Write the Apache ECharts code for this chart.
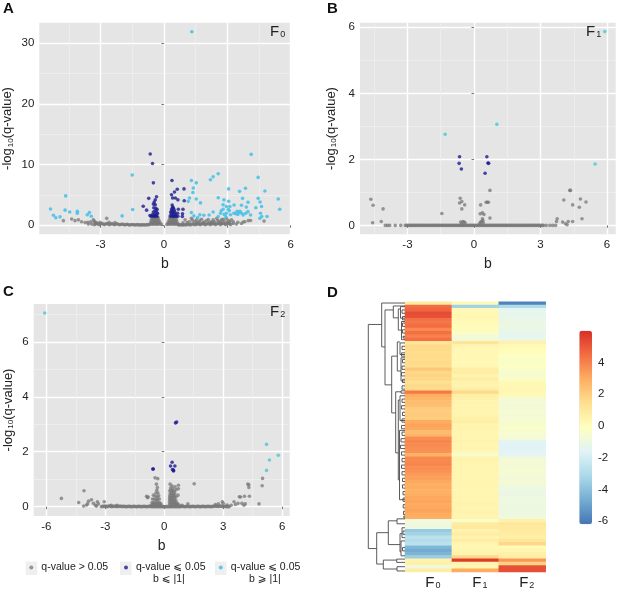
<!DOCTYPE html>
<html><head><meta charset="utf-8">
<style>html,body{margin:0;padding:0;background:#fff}#c{width:617px;height:590px}</style>
<script src="https://cdn.jsdelivr.net/npm/echarts@6/dist/echarts.min.js"></script>
</head><body><div id="c"></div>
<script>
// ---------- Panel A (F0) ----------
const grayA=[[-3.3,.1],[-3.18,.3],[-3.06,.1],[-2.94,.32],[-2.82,.12],[-2.7,.3],[-2.58,.1],[-2.46,.28],[-2.34,.1],[-2.22,.26],[-2.1,.1],[-1.98,.2],[-1.86,.08],[-1.74,.18],[-1.62,.06],[-1.5,.14],[-1.38,.06],[-1.26,.12],[-1.14,.05],[-1.02,.1],[-.9,.05],[-.78,.12],[1.0,.1],[.88,.08],[.76,.12],[1.12,.2],[1.24,.1],[1.36,.25],[1.48,.1],[1.6,.28],[1.72,.1],[1.84,.3],[1.96,.1],[2.08,.3],[2.2,.12],[2.32,.32],[2.44,.12],[2.56,.35],[2.68,.12],[2.8,.35],[2.92,.15],[3.04,.35],[3.16,.12],[3.28,.3],
[-3.24,.2],[-3.12,.2],[-3.0,.22],[-2.88,.2],[-2.76,.2],[-2.64,.2],[-2.52,.2],[-2.4,.18],[-2.28,.18],[-2.16,.16],[-2.04,.14],[-1.92,.14],[-1.8,.12],[-1.68,.1],[-1.56,.1],[-1.44,.09],[-1.32,.08],[-1.2,.08],[-1.08,.07],[-.96,.08],[-.84,.08],[-.72,.08],[.7,.06],[.82,.06],[.94,.08],[1.06,.08],[1.18,.1],[1.3,.12],[1.42,.14],[1.54,.16],[1.66,.18],[1.78,.2],[1.9,.2],[2.02,.2],[2.14,.2],[2.26,.22],[2.38,.22],[2.5,.22],[2.62,.24],[2.74,.24],[2.86,.24],[2.98,.24],[3.1,.24],
[-3.03,.5],[-3.2,.45],[-2.71,1.15],[-2.32,.45],[-2.6,.5],[-4.76,.77],[-4.37,1.05],[-4.21,.77],[-4.05,.9],[-3.9,.6],[-3.73,.45],[-3.58,.2],[-3.46,.6],[-3.34,.9],[-3.26,.45],[-3.42,.2],[-3.3,.7],[-3.6,.5],
[1.0,.9],[1.3,1.15],[1.54,.9],[1.78,1.0],[2.0,.75],[2.33,.9],[2.5,1.15],[2.72,.9],[2.96,1.15],[3.12,.6],[3.28,.6],[3.43,.2],[3.67,.3],[3.83,.6],[3.99,.77],[4.1,.8],[4.74,.7],[1.2,.6],[1.45,.6],[1.66,.5],[1.9,.55],[2.15,.5],[2.4,.6],[2.62,.6],[2.85,.65],[3.05,.8],[3.5,.5],[3.75,.55],[.9,.4],[1.1,.45],[1.35,.85],[1.7,.75],[2.1,.95],[2.25,.6],[2.55,.8],[2.8,1.0],[3.2,.9],[1.55,.45],[1.85,.4],[2.3,.45],[2.7,.5],[3.0,.55],
[-.66,.2],[-.6,.2],[-.54,.2],[-.48,.2],[-.42,.2],[-.36,.2],[-.3,.2],[-.24,.2],[-.18,.25],[-.12,.15],[-.62,.55],[-.55,.55],[-.48,.55],[-.41,.55],[-.34,.55],[-.27,.55],[-.2,.6],[-.6,.9],[-.53,.9],[-.46,.9],[-.39,.9],[-.32,.9],[-.25,.9],[-.55,1.25],[-.48,1.3],[-.41,1.3],[-.34,1.3],[-.27,1.25],
[.14,.15],[.2,.2],[.26,.2],[.32,.2],[.38,.2],[.44,.2],[.5,.2],[.56,.2],[.62,.2],[.68,.15],[.2,.55],[.27,.55],[.34,.55],[.41,.55],[.48,.55],[.55,.55],[.62,.55],[.25,.9],[.32,.9],[.39,.9],[.46,.9],[.53,.9],[.6,.9],[.28,1.25],[.35,1.3],[.42,1.3],[.49,1.3],[.56,1.25]];
const darkA=[[-.65,11.75],[-.54,10.2],[-.5,7.0],[.38,7.4],[.95,6.0],[.63,5.95],[.5,5.5],[.36,5.05],[.41,4.5],[.54,4.5],[-.35,4.7],[-.72,4.45],[-.41,4.2],[.66,4.2],[.96,4.05],[-.46,3.85],[-.5,3.5],[-.41,3.4],[-.98,3.15],[-.82,2.5],[.39,3.35],[.41,3.0],[.47,2.65],[.38,2.4],[.68,2.65],[.9,2.65],[.88,1.9],[.65,2.0],[.87,1.45],[-.48,2.9],[-.38,2.8],[-.32,2.6],[-.42,2.4],[-.5,2.2],[-.35,2.15],[-.3,1.95],[-.55,1.75],[-.45,1.8],[-.38,1.65],[-.6,1.5],[-.5,1.5],[-.42,1.5],[-.33,1.5],[-.66,1.6],[.32,2.2],[.42,2.1],[.5,2.3],[.35,1.9],[.45,1.75],[.55,1.7],[.3,1.55],[.38,1.5],[.48,1.45],[.58,1.5],[.66,1.5],[.52,2.0],[.44,2.9],[.36,2.7]];
const cyanA=[[1.32,31.9],[4.13,11.7],[-1.5,8.3],[2.57,8.5],[2.33,8.0],[2.2,7.5],[4.46,7.9],[1.3,7.4],[1.53,7.0],[1.39,6.15],[3.06,6.0],[3.86,6.1],[3.58,5.6],[4.78,5.65],[1.37,5.4],[-4.65,4.85],[3.72,4.45],[4.46,4.45],[5.41,4.35],[1.21,4.5],[1.53,4.35],[2.57,4.55],[1.15,3.95],[1.73,3.7],[2.84,4.2],[3.06,3.95],[3.98,3.8],[4.55,3.85],[-5.37,2.7],[5.48,2.65],[-1.48,2.6],[-4.68,2.5],[-4.46,2.2],[-4.1,2.3],[-4.1,2.0],[-3.53,2.1],[-3.63,1.75],[-3.44,1.5],[-5.23,1.65],[-5.12,1.25],[-4.92,1.4],[-1.98,1.55],[2.8,3.4],[2.96,3.1],[3.12,3.1],[3.32,3.35],[2.8,2.65],[3.09,2.4],[2.71,2.4],[3.67,3.3],[3.9,3.0],[4.35,2.9],[4.62,3.1],[3.46,2.3],[3.55,2.15],[3.31,2.0],[3.15,1.75],[2.96,2.0],[2.68,2.0],[2.57,1.45],[2.93,1.45],[3.68,2.0],[3.87,2.0],[4.1,1.7],[3.98,2.25],[3.75,1.7],[4.57,2.0],[4.63,1.45],[4.54,1.15],[4.88,1.45],[2.33,2.2],[2.14,1.7],[1.89,1.65],[1.7,1.75],[1.6,1.3],[1.3,2.1],[1.42,1.55],[3.4,1.9],[3.6,2.3],[3.5,1.8],[2.85,1.8],[3.05,2.6]];
// ---------- Panel B (F1) ----------
const grayB=[[-3.1,0],[-2.98,0],[-2.86,0],[-2.74,0],[-2.62,0],[-2.5,0],[-2.38,0],[-2.26,0],[-2.14,0],[-2.02,0],[-1.9,0],[-1.78,0],[-1.66,0],[-1.54,0],[-1.42,0],[-1.3,0],[-1.18,0],[-1.06,0],[-.94,0],[-.82,0],[-.7,0],[-.58,0],[-.46,0],[-.34,0],[-.22,0],[-.1,0],[.02,0],[.14,0],[.26,0],[.38,0],[.5,0],[.62,0],[.74,0],[.86,0],[.98,0],[1.1,0],[1.22,0],[1.34,0],[1.46,0],[1.58,0],[1.7,0],[1.82,0],[1.94,0],[2.06,0],[2.18,0],[2.3,0],[2.42,0],[2.54,0],[2.66,0],[2.78,0],[2.9,0],[3.02,0],[3.14,0],
[-3.04,0],[-2.92,0],[-2.8,0],[-2.68,0],[-2.56,0],[-2.44,0],[-2.32,0],[-2.2,0],[-2.08,0],[-1.96,0],[-1.84,0],[-1.72,0],[-1.6,0],[-1.48,0],[-1.36,0],[-1.24,0],[-1.12,0],[-1.0,0],[-.88,0],[-.76,0],[-.64,0],[-.52,0],[-.4,0],[-.28,0],[-.16,0],[-.04,0],[.08,0],[.2,0],[.32,0],[.44,0],[.56,0],[.68,0],[.8,0],[.92,0],[1.04,0],[1.16,0],[1.28,0],[1.4,0],[1.52,0],[1.64,0],[1.76,0],[1.88,0],[2.0,0],[2.12,0],[2.24,0],[2.36,0],[2.48,0],[2.6,0],[2.72,0],[2.84,0],[2.96,0],[3.08,0],
[3.26,0],[3.42,0],[3.55,0],[3.68,0],[-3.3,0],[-3.55,0],[-3.8,0],[-3.9,0],[-4.0,0],
[-4.65,.79],[-4.55,.61],[-4.57,.08],[-4.1,.5],[-4.18,.12],[-1.45,.36],[-.62,.82],[-.65,.68],[-.55,.72],[-.55,.5],[-.42,.62],[-.6,.1],[-.5,.12],[-.45,.1],[-.4,.08],[-.55,.05],[.3,.62],[.28,.35],[.38,.38],[.45,.33],[.72,1.06],[.55,.7],[.6,.7],[.65,.7],[.72,.22],[.38,.2],[.4,.15],[.35,.12],[.3,.1],[.42,.08],[.26,.06],
[3.75,.2],[3.72,.12],[4.0,.1],[4.05,.77],[4.25,.12],[4.13,.05],[4.2,.02],[4.32,1.06],[4.35,1.06],[4.45,.62],[4.45,.12],[4.75,.55],[4.8,.8],[4.87,.2],[5.05,.71]];
const darkB=[[-.65,2.08],[-.67,1.88],[-.57,1.71],[.58,2.08],[.63,1.89],[.66,1.88],[.5,1.58]];
const cyanB=[[-1.3,2.76],[1.03,3.06],[5.9,5.87],[5.46,1.86]];
// ---------- Panel C (F2) ----------
const grayC=[[-3.2,.0],[-3.07,.01],[-2.94,.0],[-2.81,.02],[-2.68,.0],[-2.55,.01],[-2.42,.0],[-2.29,.01],[-2.16,.0],[-2.03,.01],[-1.9,.0],[-1.77,.01],[-1.64,.0],[-1.51,.01],[-1.38,.0],[-1.25,.01],[-1.12,.0],[-.99,.01],[-.86,.0],[-.73,.01],[-.6,.0],[-.47,.0],[-.34,.0],[-.21,.0],[-.08,.0],[.05,.0],[.18,.0],[.31,.0],[.44,.0],[.57,.0],[.7,.0],[.83,.0],[.96,.01],[1.09,.0],[1.22,.01],[1.35,.0],[1.48,.01],[1.61,.0],[1.74,.01],[1.87,.0],[2.0,.01],[2.13,.0],[2.26,.01],[2.39,.0],[2.52,.01],[2.65,.02],[2.78,.01],[2.91,.02],[3.04,.01],[3.17,.0],[3.3,.0],
[-3.13,.01],[-3.0,.02],[-2.87,.01],[-2.74,.02],[-2.61,.01],[-2.48,.02],[-2.35,.01],[-2.22,.02],[-2.09,.01],[-1.96,.0],[-1.83,.01],[-1.7,.0],[-1.57,.01],[-1.44,.0],[-1.31,.01],[-1.18,.0],[-1.05,.01],[-.92,.0],[-.79,.01],[-.66,.0],[-.53,.0],[-.4,.0],[-.27,.0],[-.14,.0],[-.02,.0],[.11,.0],[.24,.0],[.37,.0],[.5,.0],[.63,.0],[.76,.0],[.89,.01],[1.02,.0],[1.15,.01],[1.28,.0],[1.41,.01],[1.54,.0],[1.67,.01],[1.8,.0],[1.93,.01],[2.06,.0],[2.19,.01],[2.32,.0],[2.45,.01],[2.58,.02],[2.71,.01],[2.84,.02],[2.97,.01],[3.1,.01],[3.24,.0],
[-5.23,.3],[-4.08,.58],[-4.35,.15],[-4.1,.02],[-3.9,.1],[-3.85,.2],[-3.95,.06],[-3.7,.25],[-3.6,.12],[-3.5,.05],[-3.4,.18],[-3.35,.1],[-3.45,.02],[-3.05,.18],[-2.7,.05],[-2.4,.05],
[-.9,.38],[-.82,.35],[-.85,.33],[-.47,1.05],[-.33,1.02],[-.4,.82],[-.35,.7],[-.38,.6],[-.42,.5],[-.32,.5],[-.55,.42],[-.45,.38],[-.35,.35],[-.28,.4],[-.6,.28],[-.5,.27],[-.42,.25],[-.34,.25],[-.25,.28],[-.62,.15],[-.55,.14],[-.47,.14],[-.4,.14],[-.32,.14],[-.24,.15],[-.17,.1],[-.66,.06],[-.58,.07],[-.5,.07],[-.42,.07],[-.34,.07],[-.26,.07],[-.18,.06],
[.3,.82],[.4,.75],[.55,.72],[.72,.78],[.32,.68],[.42,.65],[.72,.65],[.6,.62],[.28,.58],[.36,.58],[.44,.58],[.52,.55],[.3,.48],[.38,.48],[.46,.48],[.54,.46],[.7,.42],[.28,.4],[.36,.4],[.44,.4],[.52,.38],[.6,.35],[.27,.32],[.35,.32],[.43,.32],[.51,.3],[.27,.24],[.35,.24],[.43,.24],[.51,.22],[.59,.22],[.27,.16],[.35,.16],[.43,.16],[.51,.15],[.59,.14],[.67,.12],[.27,.08],[.35,.08],[.43,.08],[.51,.08],[.59,.07],[.67,.07],[.75,.06],[.9,.05],[1.2,.1],[1.52,.83],
[2.95,.18],[2.6,.08],[2.75,.1],[3.0,.12],[3.2,.06],[3.4,.05],[3.55,.18],[3.62,.08],[3.75,.12],[3.82,.36],[3.88,.35],[3.95,.12],[4.05,.05],[4.08,.38],[4.12,.1],[4.25,.82],[4.3,.8],[4.3,.7],[4.33,.38],[4.82,.1],[5.0,1.03],[4.98,.76]];
const darkC=[[.57,3.05],[.63,3.08],[.4,1.62],[.32,1.48],[.54,1.48],[.42,1.35],[.47,1.33],[.47,1.3],[-.58,1.37],[-.56,1.37]];
const cyanC=[[-6.08,7.05],[5.2,2.27],[5.8,1.87],[5.35,1.7],[5.2,1.32]];
// ---------- Panel D heat map ----------
const columns=['F{s|0}','F{s|1}','F{s|2}'];
const heatF0=[.9,4.5,4.7,5.3,5.2,4.4,4.3,4.5,3.8,4.4,4.0,4.4,1.2,1.6,1.6,1.5,1.6,1.5,1.6,1.5,2.2,1.7,1.8,1.7,1.4,1.6,1.6,4.2,3.0,2.7,2.5,2.4,2.1,2.0,2.1,2.0,3.0,3.2,3.1,2.5,2.7,3.7,3.9,3.8,3.7,3.6,2.8,3.8,3.8,3.9,3.7,3.6,3.4,3.3,3.1,2.9,3.0,2.8,2.9,3.1,3.2,3.0,3.1,3.2,3.0,2.9,-.9,-.8,-1.0,-3.7,-3.4,-2.7,-2.9,-2.7,-4.3,-4.7,-4.4,-3.6,.5,.6,-1.0,.8];
const heatF1=[.2,-3.4,.2,.3,.3,.3,.2,.1,.1,-.3,-.7,-.8,1.2,.4,.3,.3,.3,.3,.2,.3,.7,.8,.4,.8,.5,.5,.7,1.6,.7,.6,.5,.4,.5,.4,.4,.6,.7,.4,.5,.4,.4,.4,.5,.4,.4,.3,-.5,.5,.4,.4,.4,.4,.4,.4,.4,.4,.4,.4,.4,.4,.4,.5,.4,.5,.4,.4,-.3,.9,1.0,.5,.8,.5,.8,.4,.3,.4,.5,1.7,5.7,.4,.3,3.0];
const heatF2=[-5.8,-3.0,-1.4,-1.3,-1.3,-1.2,-1.1,-1.0,-1.2,-1.3,-1.3,-1.2,.6,.2,.1,.0,-.2,-.3,-.3,-.2,-.4,-.5,-.5,-.4,.2,.3,.3,.3,.2,-.7,-.7,-.8,-.7,-.6,-.7,-.6,-.5,-.5,-.4,-.5,-.6,-.7,-1.5,-1.6,-1.6,-1.5,-1.5,-.8,-.7,-.7,-.7,-.6,-.7,-.8,-.7,-.8,-1.0,-1.1,-1.1,-1.0,-1.0,-.9,-1.0,-1.0,-1.0,-.9,.6,1.1,1.0,.9,.8,.7,1.1,1.7,.2,.4,.6,.8,3.5,1.8,5.2,5.2];
const heatColors=['#4575b4','#74add1','#abd9e9','#e0f3f8','#ffffbf','#fee090','#fdae61','#f46d43','#d73027'];
const colorTicks=[-6,-4,-2,0,2,4];
// Dendrogram merges: [height, row1, childHeight1, row2, childHeight2]
const dendro=[[36.7,6.9,23.3,74.8,28.3],[23.3,.4,0,13.7,20],[20,2.5,11.7,25.2,13.3],[11.7,1.3,0,4.9,6.7],[6.7,2.2,4.5,8.6,3.5],[13.3,16.5,7.7,33.7,9.3],[7.7,12.2,5,21,4],[9.3,27.3,4,45.8,6.7],[6.7,29.8,5,54,5.5],
[4.5,1.5,0,5,0],[3,2.5,0,3.5,0],[2.5,4.5,0,5.5,0],[3.5,6,0,11.5,0],[2.5,6.5,0,7.5,0],[2.5,8.5,0,9.5,0],[2,10.5,0,11,0],
[5,12.5,0,16,0],[3,13.5,0,14.5,0],[3.5,15.5,0,16.5,0],[2.5,17.5,0,18.5,0],[4,17,0,24,0],[3,19.5,0,20.5,0],[3.5,21.5,0,22.5,0],[2.5,23.5,0,24.5,0],[3,25.5,0,26.5,0],[4,27,0,27.7,0],
[5,28.5,0,36,0],[3,29.5,0,30.5,0],[3.5,31.5,0,32.5,0],[2.5,33.5,0,34.5,0],[3,35.5,0,36.5,0],[3.5,37.5,0,38.5,0],[5.5,39,0,60,0],[3,39.5,0,40.5,0],[4,41.5,0,42.5,0],[4.5,43.5,0,44.5,0],[3.5,45.5,0,46.5,0],[3,47.5,0,48.5,0],[3.5,49.5,0,50.5,0],[3,51.5,0,52.5,0],[2.5,53.5,0,54.5,0],[2.5,55.5,0,56.5,0],[2,57.5,0,58.5,0],[2,59.5,0,60.5,0],[1.8,61.5,0,62.5,0],[1.5,63.5,0,64.5,0],[1.2,65,0,65.5,0],
[28.3,70,16.7,79.5,21.7],[16.7,66.4,8,73.6,5],[8,65.8,0,67.3,0],[5,70.3,3,75.8,4],[3,68.5,0,71.5,0],[2,69.5,0,70.5,0],[4,72.5,0,77,0],[2.5,74.5,0,75.5,0],[21.7,78.3,8.3,81,8],[8.3,78,0,79,0],[8,80.3,0,81.6,0]];
// ---------- Legend and axes ----------
const seriesNames=['q-value > 0.05','q-value ⩽ 0.05, b ⩽ |1|','q-value ⩽ 0.05, b ⩾ |1|'];
const xTicks=[-3,0,3,6], xTicksC=[-6,-3,0,3,6];
const xMinor=[-4.5,-1.5,1.5,4.5], xMinorC=[-4.5,-1.5,1.5,4.5];

const FONT='"Liberation Sans","DejaVu Sans",sans-serif', TXT='#222';
const sub={fontSize:8,fontFamily:FONT,verticalAlign:'bottom',padding:[4,0,0,1],fill:TXT,color:TXT};
const grids=[],xA=[],yA=[],ser=[];
function panel(g,xr,yr,xt,xm,yt,ym,nameGapY,sets,cy){
  const i=grids.length;
  grids.push({left:g[0],top:g[1],width:g[2],height:g[3],backgroundColor:'#e5e5e5',show:true,borderWidth:0});
  const lab={color:TXT,fontSize:11.5,fontFamily:FONT,margin:5};
  xA.push({type:'value',gridIndex:i,min:xr[0],max:xr[1],position:'bottom',name:'b',nameLocation:'middle',nameGap:23,
    nameTextStyle:{fontSize:14,fontFamily:FONT,color:TXT},axisLine:{show:false},
    axisTick:{show:true,length:2.5,lineStyle:{color:'#777'},customValues:xt},axisLabel:Object.assign({customValues:xt},lab),
    splitLine:{show:true,lineStyle:{color:'#fff',width:1.4}}});
  const xM=xA.length;
  xA.push({type:'value',gridIndex:i,min:xr[0],max:xr[1],position:'top',axisLine:{show:false},
    axisTick:{show:false,customValues:xm},axisLabel:{show:false,customValues:xm},splitLine:{show:true,lineStyle:{color:'#efefef',width:.8}}});
  yA.push({type:'value',gridIndex:i,min:yr[0],max:yr[1],position:'left',name:'-log{s|10}(q-value)',nameLocation:'middle',nameGap:nameGapY,nameRotate:90,
    nameTextStyle:{fontSize:13,fontFamily:FONT,color:TXT,rich:{s:sub}},axisLine:{show:false},
    axisTick:{show:true,length:2.5,lineStyle:{color:'#777'},customValues:yt},axisLabel:Object.assign({customValues:yt},lab),
    splitLine:{show:true,lineStyle:{color:'#fff',width:1.4}}});
  yA.push({type:'value',gridIndex:i,min:yr[0],max:yr[1],position:'right',axisLine:{show:false},
    axisTick:{show:false,customValues:ym},axisLabel:{show:false,customValues:ym},splitLine:{show:true,lineStyle:{color:'#efefef',width:.8}}});
  const cols=['#777777','#1c1a90',cy];
  const ops=[.75,.8,.85];
  sets.forEach((d,k)=>ser.push({type:'scatter',name:seriesNames[k],xAxisIndex:xM-1,yAxisIndex:yA.length-2,data:d,symbolSize:3.6,
    itemStyle:{color:cols[k],opacity:ops[k]},silent:true,z:3+k}));
}
panel([39.3,22.7,251.4,211.6],[-5.9,6],[-1.48,33.4],xTicks,xMinor,[0,10,20,30],[5,15,25],25,[grayA,darkA,cyanA],'#43bfe8');
panel([360,22.7,255.7,211.6],[-5.14,6.39],[-.27,6.14],xTicks,xMinor,[0,2,4,6],[1,3,5],22,[grayB,darkB,cyanB],'#4fcbd6');
panel([33.7,304,256,212],[-6.64,6.38],[-.34,7.38],xTicksC,xMinorC,[0,2,4,6],[1,3,5,7],19,[grayC,darkC,cyanC],'#55c9d4');

// heat map
const hg=grids.length;
grids.push({left:405,top:301.7,width:140.7,height:270.6,show:false});
xA.push({type:'category',gridIndex:hg,data:columns,position:'bottom',axisLine:{show:false},axisTick:{show:false},splitLine:{show:false},
  axisLabel:{fontSize:15,fontFamily:FONT,color:TXT,margin:3,interval:0,padding:[0,0,0,9],rich:{s:Object.assign({},sub,{fontSize:9})}}});
yA.push({type:'category',gridIndex:hg,inverse:true,data:heatF0.map((_,i)=>i),show:false});
const heatData=[];
[heatF0,heatF1,heatF2].forEach((c,ci)=>c.forEach((v,r)=>heatData.push([ci,r,v])));
const heatIdx=ser.length;
ser.push({type:'heatmap',xAxisIndex:xA.length-1,yAxisIndex:yA.length-1,data:heatData,silent:true,progressive:0,itemStyle:{borderWidth:0}});

// dendrogram
const dg=grids.length;
grids.push({left:360,top:301.7,width:45,height:270.6,show:false});
xA.push({type:'value',gridIndex:dg,min:0,max:45,inverse:true,show:false});
yA.push({type:'value',gridIndex:dg,min:0,max:82,inverse:true,show:false});
ser.push({type:'lines',coordinateSystem:'cartesian2d',xAxisIndex:xA.length-1,yAxisIndex:yA.length-1,polyline:true,silent:true,
  lineStyle:{color:'#4a4a4a',width:.9,opacity:1},
  data:dendro.map(n=>({coords:[[n[2],n[1]],[n[0],n[1]],[n[0],n[3]],[n[4],n[3]]]}))});

// colour bar labels
const cg=grids.length;
grids.push({left:579.3,top:330.7,width:12.7,height:193.6,show:false});
xA.push({type:'value',gridIndex:cg,min:0,max:1,show:false});
yA.push({type:'value',gridIndex:cg,min:-6.2,max:6,position:'right',axisLine:{show:false},splitLine:{show:false},
  axisTick:{show:false,customValues:colorTicks},axisLabel:{customValues:colorTicks,color:TXT,fontSize:11.5,fontFamily:FONT,margin:6}});
ser.push({type:'scatter',xAxisIndex:xA.length-1,yAxisIndex:yA.length-1,data:[],silent:true});

function letter(t,x,y){return {type:'text',left:x,top:y,style:{text:t,font:'bold 15px '+FONT,fill:'#111'}};}
function fLabel(t,x,y){return {type:'text',left:x,top:y,z:20,style:{text:t,fontSize:15,fontFamily:FONT,fill:TXT,rich:{s:Object.assign({},sub,{fontSize:9})}}};}
function key(x){return {type:'rect',shape:{x:x,y:561.5,width:11.5,height:13.5},style:{fill:'#efefef'},z:-1};}
function second(t,x){return {type:'text',left:x,top:574,style:{text:t,fontSize:10.5,fontFamily:FONT,fill:TXT}};}
function leg(name,x,tw){return {data:[name],left:x,top:562,orient:'horizontal',selectedMode:false,icon:'circle',itemWidth:4,itemHeight:4,padding:0,itemGap:0,
  formatter:()=>name.split(',')[0],textStyle:{fontSize:10.5,fontFamily:FONT,color:TXT,padding:[0,0,0,tw]}};}

const chart=echarts.init(document.getElementById('c'),null,{renderer:'canvas'});
chart.setOption({animation:false,backgroundColor:'#fff',grid:grids,xAxis:xA,yAxis:yA,series:ser,
  visualMap:{type:'continuous',seriesIndex:heatIdx,min:-6.2,max:6,calculable:false,showLabel:false,text:null,left:579.3,top:330.7,itemWidth:12.7,itemHeight:193.6,padding:0,inRange:{color:heatColors}},
  legend:[leg(seriesNames[0],29.3,3),leg(seriesNames[1],124,3),leg(seriesNames[2],218.8,3)],
  graphic:[letter('A',3,1),letter('B',327,1),letter('C',3,284),letter('D',327,285),
    fLabel('F{s|0}',270,24),fLabel('F{s|1}',586,24),fLabel('F{s|2}',270,304),
    key(25.7),key(120),key(215),second('b ⩽ |1|',153),second('b ⩾ |1|',249)]
});
</script></body></html>
